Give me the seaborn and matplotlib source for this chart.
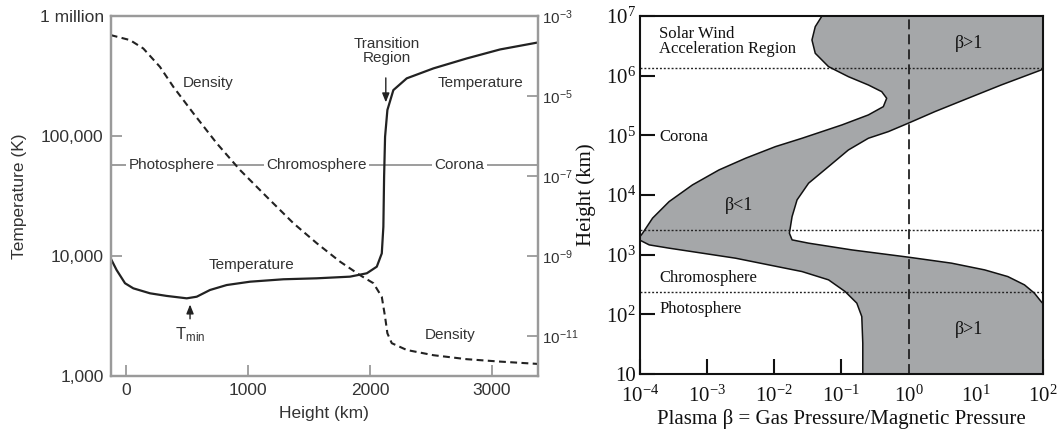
import numpy as np
import matplotlib
matplotlib.use("Agg")
import matplotlib.pyplot as plt
import seaborn as sns
from matplotlib.ticker import FixedLocator, NullLocator, FixedFormatter

# ---------------- data: left panel (solar atmosphere profile) ----------------
temp_height_km = [-130, -81, -12, 56, 193, 330, 495, 577, 686, 823, 1015, 1289, 1563,
                  1836, 1974, 2056, 2097, 2110, 2116, 2124, 2143, 2192, 2302, 2521,
                  2795, 3069, 3384]
temperature_K = [9570, 7640, 5930, 5380, 4890, 4650, 4440, 4580, 5210, 5730, 6110, 6400,
                 6520, 6730, 7180, 8150, 10520, 17540, 45800, 98600, 164800, 241500,
                 302700, 366400, 443600, 527200, 603900]

dens_height_km = [-130, 29, 138, 275, 385, 549, 741, 933, 1152, 1371, 1563, 1754, 1919,
                  2028, 2097, 2124, 2143, 2179, 2302, 2521, 2795, 3069, 3384]
density = [3.35e-4, 2.51e-4, 1.55e-4, 5.37e-5, 1.70e-5, 3.72e-6, 6.61e-7, 1.41e-7,
           3.02e-8, 6.61e-9, 2.09e-9, 7.24e-10, 3.31e-10, 2.09e-10, 9.55e-11, 3.02e-11,
           1.17e-11, 6.61e-12, 4.47e-12, 3.31e-12, 2.63e-12, 2.29e-12, 2.00e-12]

height_ticks = [0, 1000, 2000, 3000]
temp_ticks = [1e3, 1e4, 1e5, 1e6]
temp_tick_labels = ["1,000", "10,000", "100,000", "1 million"]
dens_ticks = [1e-11, 1e-9, 1e-7, 1e-5, 1e-3]
dens_tick_labels = [r"$\mathsf{10^{-11}}$", r"$\mathsf{10^{-9}}$", r"$\mathsf{10^{-7}}$",
                    r"$\mathsf{10^{-5}}$", r"$\mathsf{10^{-3}}$"]
region_line_T = 57300
region_names = ["Photosphere", "Chromosphere", "Corona"]
region_km = [371, 1563, 2735]

# ---------------- data: right panel (plasma beta band) ----------------
left_log_beta = [-1.289, -1.389, -1.438, -1.389, -1.191, -0.895, -0.598, -0.399, -0.325,
                 -0.375, -0.598, -0.993, -1.586, -1.982, -2.427, -2.823, -3.218, -3.565,
                 -3.812, -3.960, -4.030, -3.862, -3.565, -3.070, -2.576, -2.082, -1.586,
                 -1.191, -0.944, -0.770, -0.696, -0.681, -0.681]
left_log_h = [7.0, 6.821, 6.598, 6.375, 6.151, 5.983, 5.844, 5.732, 5.621, 5.481, 5.342,
              5.174, 4.951, 4.811, 4.616, 4.420, 4.169, 3.890, 3.612, 3.360, 3.260, 3.164,
              3.109, 3.025, 2.941, 2.829, 2.717, 2.578, 2.382, 2.188, 1.963, 1.518, 1.0]
right_log_beta = [3.0, 1.975, 1.381, 0.886, 0.392, -0.004, -0.301, -0.598, -0.895, -1.191,
                  -1.488, -1.660, -1.734, -1.774, -1.734, -1.488, -0.844, 0.0, 0.640,
                  1.134, 1.479, 1.727, 1.875, 1.975, 3.0]
right_log_h = [7.0, 6.095, 5.844, 5.621, 5.397, 5.203, 5.062, 4.951, 4.755, 4.476, 4.198,
               3.918, 3.638, 3.360, 3.248, 3.193, 3.080, 2.958, 2.858, 2.745, 2.633, 2.494,
               2.355, 2.214, 1.0]
layer_boundaries_km = [1.35e6, 2600, 238]
beta_ticks = [1e-4, 1e-3, 1e-2, 1e-1, 1e0, 1e1, 1e2]
beta_tick_labels = [r"$\mathrm{10^{-4}}$", r"$\mathrm{10^{-3}}$", r"$\mathrm{10^{-2}}$",
                    r"$\mathrm{10^{-1}}$", r"$\mathrm{10^{0}}$", r"$\mathrm{10^{1}}$",
                    r"$\mathrm{10^{2}}$"]
h_ticks = [1e1, 1e2, 1e3, 1e4, 1e5, 1e6, 1e7]
h_tick_labels = ["10", r"$\mathrm{10^{2}}$", r"$\mathrm{10^{3}}$", r"$\mathrm{10^{4}}$",
                 r"$\mathrm{10^{5}}$", r"$\mathrm{10^{6}}$", r"$\mathrm{10^{7}}$"]

# ---------------- style ----------------
sns.set_theme(style="ticks")
plt.rcParams["font.family"] = ["Liberation Sans", "DejaVu Sans"]
plt.rcParams["mathtext.fontset"] = "custom"
plt.rcParams["mathtext.rm"] = "Liberation Serif"
plt.rcParams["mathtext.it"] = "Liberation Serif:italic"
plt.rcParams["mathtext.sf"] = "Liberation Sans"

fig = plt.figure(figsize=(10.63, 4.30), dpi=100)

# ======================= LEFT PANEL =======================
SANS = ["Liberation Sans", "DejaVu Sans"]
tc = "#333333"
spc = "#9a9a9a"
ax = fig.add_axes([0.1041, 0.1256, 0.402, 0.837])
ax2 = ax.twinx()

sns.lineplot(x=temp_height_km, y=temperature_K, ax=ax, color="#222222", lw=1.6,
             sort=False, estimator=None)
sns.lineplot(x=dens_height_km, y=density, ax=ax2, color="#222222", lw=1.5,
             linestyle=(0, (3.3, 2.1)), sort=False, estimator=None)

ax.set_yscale("log")
ax2.set_yscale("log")
ax.set_xlim(-130, 3380)
ax.set_ylim(1e3, 1e6)
ax2.set_ylim(1e-12, 1e-3)

ax.xaxis.set_major_locator(FixedLocator(height_ticks))
ax.set_xticklabels([str(v) for v in height_ticks])
ax.yaxis.set_major_locator(FixedLocator(temp_ticks))
ax.yaxis.set_major_formatter(FixedFormatter(temp_tick_labels))
ax.yaxis.set_minor_locator(NullLocator())
ax2.yaxis.set_major_locator(FixedLocator(dens_ticks))
ax2.yaxis.set_major_formatter(FixedFormatter(dens_tick_labels))
ax2.yaxis.set_minor_locator(NullLocator())

for a in (ax, ax2):
    for s in a.spines.values():
        s.set_color(spc)
        s.set_linewidth(1.6)
ax.tick_params(axis="both", direction="in", length=8, width=1.3, color=spc,
               labelcolor=tc, labelsize=12.5, pad=5)
ax2.tick_params(axis="y", direction="in", length=8, width=1.3, color=spc,
                labelcolor=tc, labelsize=11, pad=3)
for lab in ax.get_xticklabels() + ax.get_yticklabels():
    lab.set_family(SANS)

ax.set_xlabel("Height (km)", fontsize=12.5, color=tc, family=SANS, labelpad=6)
ax.set_ylabel("Temperature (K)", fontsize=12.5, color=tc, family=SANS, labelpad=9)
ax2.set_ylabel("")

# region divider line with labels
ax.axhline(region_line_T, color="#8c8c8c", lw=1.2, zorder=1)
for name, km in zip(region_names, region_km):
    ax.text(km, region_line_T, name, ha="center", va="center", fontsize=11, color=tc,
            family=SANS, zorder=2,
            bbox=dict(facecolor="white", edgecolor="none", pad=1.5))

ax.text(672, 278000, "Density", ha="center", va="center", fontsize=11, color=tc, family=SANS)
ax.text(2905, 278000, "Temperature", ha="center", va="center", fontsize=11, color=tc, family=SANS)
ax.text(1029, 8410, "Temperature", ha="center", va="center", fontsize=11, color=tc, family=SANS)
ax.text(2658, 2200, "Density", ha="center", va="center", fontsize=11, color=tc, family=SANS)
ax.text(2138, 514000, "Transition\nRegion", ha="center", va="center", fontsize=11,
        color=tc, family=SANS, linespacing=1.0)
ax.annotate("", xy=(2130, 181000), xytext=(2130, 322000),
            arrowprops=dict(arrowstyle="-|>,head_length=0.45,head_width=0.18",
                            color="#222222", lw=1.0))
ax.text(522, 2200, r"$\mathsf{T_{min}}$", ha="center", va="center", fontsize=12, color=tc)
ax.annotate("", xy=(522, 4160), xytext=(522, 2840),
            arrowprops=dict(arrowstyle="-|>,head_length=0.45,head_width=0.18",
                            color="#222222", lw=1.0))

# ======================= RIGHT PANEL =======================
SERIF = ["Liberation Serif", "DejaVu Serif"]
bx = fig.add_axes([0.602, 0.1302, 0.379, 0.8326])
bx.set_xscale("log")
bx.set_yscale("log")
bx.set_xlim(1e-4, 1e2)
bx.set_ylim(10, 1e7)

poly_beta = 10 ** np.concatenate([left_log_beta, right_log_beta[::-1]])
poly_h = 10 ** np.concatenate([left_log_h, right_log_h[::-1]])
bx.fill(poly_beta, poly_h, color="#a5a7a9", lw=0, zorder=1)

sns.lineplot(x=10 ** np.array(left_log_beta), y=10 ** np.array(left_log_h), ax=bx,
             color="#111111", lw=1.1, sort=False, estimator=None, zorder=3)
sns.lineplot(x=10 ** np.array(right_log_beta), y=10 ** np.array(right_log_h), ax=bx,
             color="#111111", lw=1.1, sort=False, estimator=None, zorder=3)

for hb in layer_boundaries_km:
    bx.axhline(hb, color="#222222", lw=1.0, linestyle=(0, (1.4, 1.4)), zorder=2)
bx.axvline(1.0, color="#222222", lw=1.3, linestyle=(0, (5.5, 2.8)), zorder=2)

bx.xaxis.set_major_locator(FixedLocator(beta_ticks))
bx.xaxis.set_major_formatter(FixedFormatter(beta_tick_labels))
bx.xaxis.set_minor_locator(NullLocator())
bx.yaxis.set_major_locator(FixedLocator(h_ticks))
bx.yaxis.set_major_formatter(FixedFormatter(h_tick_labels))
bx.yaxis.set_minor_locator(NullLocator())
for s in bx.spines.values():
    s.set_color("#111111")
    s.set_linewidth(1.5)
bx.tick_params(axis="both", direction="in", length=11, width=1.5, color="#111111",
               labelcolor="#111111", labelsize=15)
bx.tick_params(axis="y", pad=3)
bx.tick_params(axis="x", pad=8)
for lab in bx.get_xticklabels() + bx.get_yticklabels():
    lab.set_family(SERIF)

bx.set_xlabel("Plasma \u03b2 = Gas Pressure/Magnetic Pressure", fontsize=15,
              family=SERIF, color="#111111", labelpad=2)
bx.set_ylabel("Height (km)", fontsize=15, family=SERIF, color="#111111", labelpad=7)

tkw = dict(transform=bx.transAxes, family=SERIF, color="#111111", va="center", zorder=4)
bx.text(0.048, 0.950, "Solar Wind", ha="left", fontsize=12, **tkw)
bx.text(0.048, 0.908, "Acceleration Region", ha="left", fontsize=12, **tkw)
bx.text(0.048, 0.663, "Corona", ha="left", fontsize=12, **tkw)
bx.text(0.048, 0.267, "Chromosphere", ha="left", fontsize=12, **tkw)
bx.text(0.048, 0.181, "Photosphere", ha="left", fontsize=12, **tkw)
bx.text(0.246, 0.472, "\u03b2<1", ha="center", fontsize=13, **tkw)
bx.text(0.817, 0.924, "\u03b2>1", ha="center", fontsize=13, **tkw)
bx.text(0.817, 0.123, "\u03b2>1", ha="center", fontsize=13, **tkw)

fig.savefig("out.png", dpi=100)
